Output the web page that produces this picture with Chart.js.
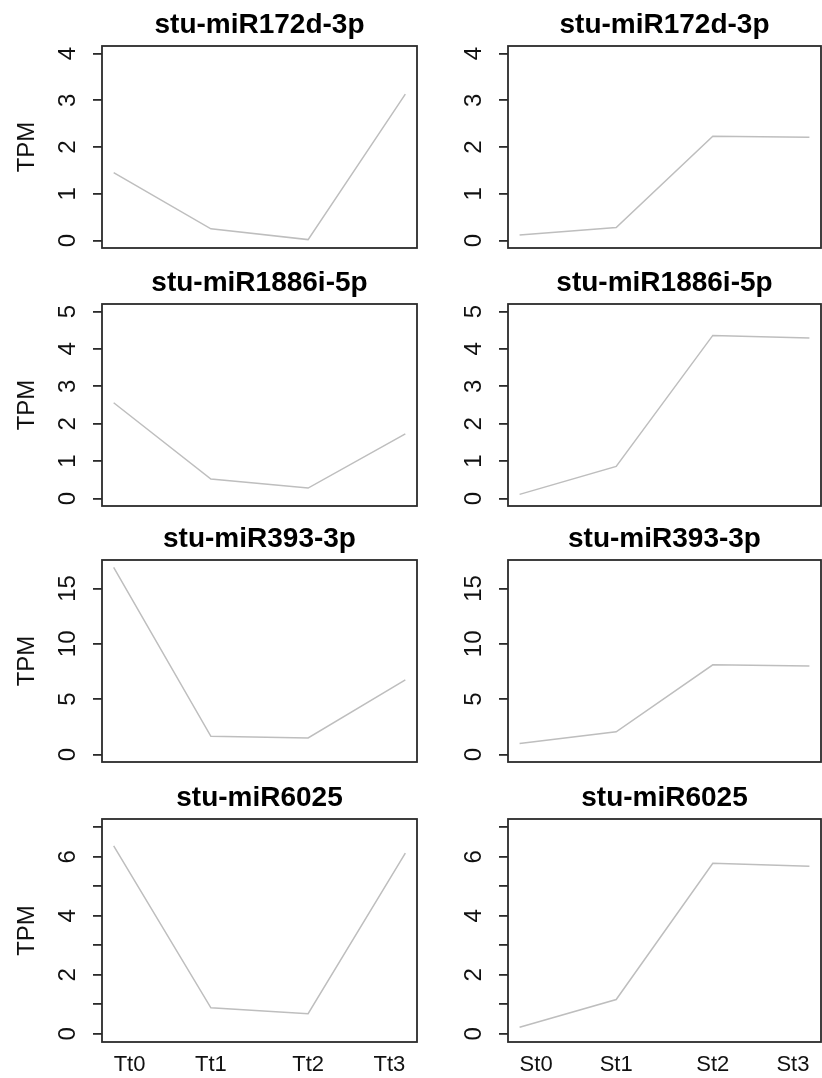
<!DOCTYPE html>
<html>
<head>
<meta charset="utf-8">
<script src="https://cdn.jsdelivr.net/npm/chart.js@4"></script>
<style>
  body { margin: 0; background: #fff; }
  #wrap { position: relative; width: 822px; height: 1078px; }
  .panel { position: absolute; }
</style>
</head>
<body>
<div id="wrap"></div>
<script>
// values
const geneTitles = ['stu-miR172d-3p', 'stu-miR1886i-5p', 'stu-miR393-3p', 'stu-miR6025'];
const ttLabels = ['Tt0', 'Tt1', 'Tt2', 'Tt3'];
const stLabels = ['St0', 'St1', 'St2', 'St3'];
const ttValues = [
    [1.45, 0.25, 0.02, 3.13],
    [2.56, 0.52, 0.28, 1.73],
    [16.9, 1.65, 1.5, 6.75],
    [6.37, 0.88, 0.68, 6.12]
];
const stValues = [
    [0.12, 0.28, 2.23, 2.21],
    [0.11, 0.86, 4.36, 4.29],
    [1.0, 2.05, 8.1, 8.0],
    [0.22, 1.16, 5.78, 5.68]
];
const yLimits = [4, 5, 16.9, 7];
const yTickSteps = [1, 1, 5, 1];
const yLabelSteps = [1, 1, 5, 2];
const yTickMax = [4, 5, 15, 7];

// layout
const rowTops = [0, 258, 514, 773];
const boxHeights = [202, 202, 202, 223];
const TITLE_SPACE = 46;
const XAXIS_SPACE = 36;
const cols = [
    { left: 0, width: 420, axisWidth: 102, padRight: 3 },
    { left: 420, width: 402, axisWidth: 88, padRight: 1 }
];

const FONT = '"Liberation Sans", Arial, sans-serif';

const panelDecor = {
    id: 'panelDecor',
    afterDraw(chart, args, opts) {
        const { ctx, chartArea: a } = chart;
        const y = chart.scales.y;
        ctx.save();
        ctx.strokeStyle = '#2b2b2b';
        ctx.lineWidth = 1.8;
        ctx.strokeRect(a.left, a.top, a.right - a.left, a.bottom - a.top);

        ctx.fillStyle = '#000';
        ctx.font = 'bold 28px ' + FONT;
        ctx.textAlign = 'center';
        ctx.textBaseline = 'alphabetic';
        ctx.fillText(opts.text, (a.left + a.right) / 2, a.top - 13);

        // R style tick labels, turned to read upwards
        ctx.font = '24px ' + FONT;
        ctx.fillStyle = '#111';
        y.ticks.forEach(t => {
            if (Math.round(t.value) % opts.labelStep !== 0) return;
            ctx.save();
            ctx.translate(a.left - 27, y.getPixelForValue(t.value));
            ctx.rotate(-Math.PI / 2);
            ctx.textAlign = 'center';
            ctx.textBaseline = 'alphabetic';
            ctx.fillText(String(t.value), 0, 0);
            ctx.restore();
        });
        ctx.restore();
    }
};

function makePanel(row, colIdx) {
    const col = cols[colIdx];
    const labels = colIdx === 0 ? ttLabels : stLabels;
    const values = colIdx === 0 ? ttValues[row] : stValues[row];
    const bottomRow = row === geneTitles.length - 1;
    const height = TITLE_SPACE + boxHeights[row] + (bottomRow ? XAXIS_SPACE : 4);

    const div = document.createElement('div');
    div.className = 'panel';
    div.style.left = col.left + 'px';
    div.style.top = rowTops[row] + 'px';
    div.style.width = col.width + 'px';
    div.style.height = height + 'px';
    const canvas = document.createElement('canvas');
    div.appendChild(canvas);
    document.getElementById('wrap').appendChild(div);

    const yMax = yLimits[row];
    new Chart(canvas.getContext('2d'), {
        type: 'line',
        data: {
            datasets: [{
                data: values.map((v, i) => ({ x: i + 1, y: v })),
                borderColor: '#bebebe',
                borderWidth: 1.5,
                pointRadius: 0,
                tension: 0,
                fill: false
            }]
        },
        options: {
            responsive: true,
            maintainAspectRatio: false,
            animation: false,
            layout: {
                padding: { top: TITLE_SPACE, right: col.padRight, left: 0, bottom: bottomRow ? 0 : 4 }
            },
            plugins: {
                legend: { display: false },
                tooltip: { enabled: false },
                panelDecor: { text: geneTitles[row], labelStep: yLabelSteps[row] }
            },
            scales: {
                x: {
                    type: 'linear',
                    min: 0.88,
                    max: 4.12,
                    display: bottomRow,
                    afterBuildTicks: scale => {
                        scale.ticks = labels.map((_, i) => ({ value: i + 1 }));
                    },
                    afterFit: scale => { scale.height = bottomRow ? XAXIS_SPACE : 0; },
                    grid: { display: false, drawTicks: false },
                    border: { display: false },
                    ticks: {
                        autoSkip: false,
                        maxRotation: 0,
                        align: 'inner',
                        padding: 10,
                        color: '#111',
                        font: { family: FONT, size: 22 },
                        callback: v => labels[Math.round(v) - 1]
                    }
                },
                y: {
                    type: 'linear',
                    min: -0.04 * yMax,
                    max: 1.04 * yMax,
                    afterBuildTicks: scale => {
                        const ticks = [];
                        for (let v = 0; v <= yTickMax[row]; v += yTickSteps[row]) ticks.push({ value: v });
                        scale.ticks = ticks;
                    },
                    afterFit: scale => { scale.width = col.axisWidth; },
                    border: { display: false },
                    grid: {
                        drawOnChartArea: false,
                        drawTicks: true,
                        tickLength: 9,
                        color: '#2b2b2b',
                        lineWidth: 1.8
                    },
                    ticks: { display: false },
                    title: {
                        display: colIdx === 0,
                        text: 'TPM',
                        color: '#111',
                        font: { family: FONT, size: 24 },
                        padding: { top: 13, bottom: 0 }
                    }
                }
            }
        },
        plugins: [panelDecor]
    });
}

for (let r = 0; r < geneTitles.length; r++) {
    makePanel(r, 0);
    makePanel(r, 1);
}
</script>
</body>
</html>
